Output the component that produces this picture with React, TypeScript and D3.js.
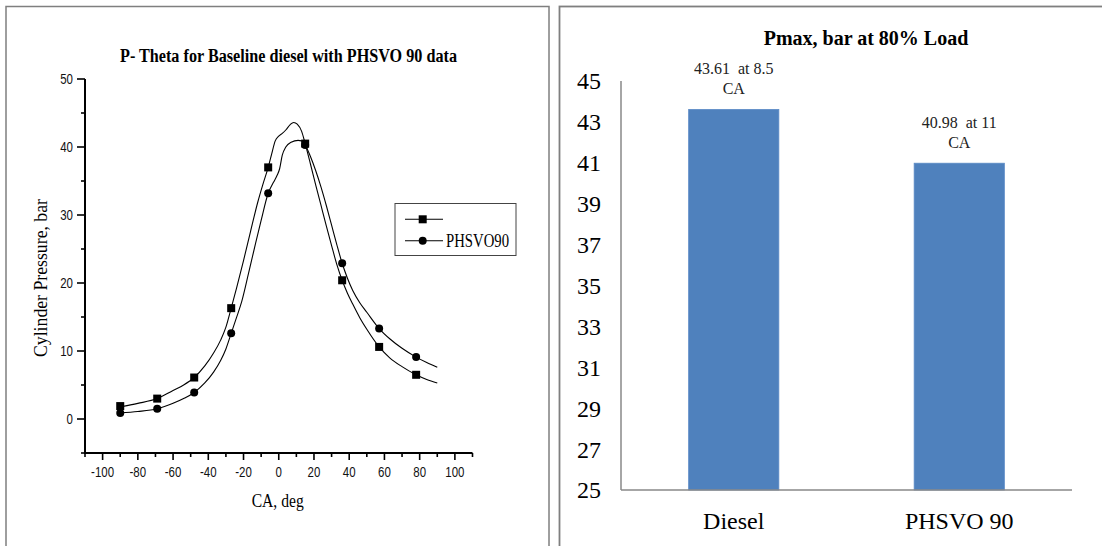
import React from 'react';
import * as d3 from 'd3';

// ---------- Left chart data (P-Theta) ----------
const markerCA = [-90, -69, -48, -27, -6, 15, 36, 57, 78];
const dieselMarkers = [1.9, 3.0, 6.1, 16.3, 37.0, 40.5, 20.4, 10.6, 6.5];
const phsvoMarkers = [0.9, 1.5, 3.9, 12.6, 33.2, 40.3, 22.9, 13.3, 9.1];

const dieselCurveCA = [-90, -80, -69, -60, -54, -48, -42, -37, -33, -30, -27, -24, -20, -16, -12, -9, -6, -4, -2, 0, 2, 4, 6.5, 8.5, 10.5, 13, 15, 18, 21, 24, 27, 30, 33, 36, 39, 42, 46, 50, 57, 63, 70, 78, 84, 90];
const dieselCurveP = [1.8, 2.3, 3.0, 4.2, 5.0, 6.1, 7.8, 9.7, 11.6, 13.5, 16.3, 19.2, 23.3, 27.6, 31.8, 34.5, 37.0, 39.0, 40.9, 41.6, 42.0, 42.5, 43.3, 43.61, 43.35, 42.3, 40.5, 37.5, 34.4, 31.4, 28.4, 25.5, 22.7, 20.4, 18.5, 16.9, 14.9, 13.2, 10.6, 9.0, 7.7, 6.5, 5.8, 5.3];

const phsvoCurveCA = [-90, -80, -69, -60, -54, -48, -42, -37, -33, -30, -27, -24, -21, -17, -13, -10, -6, -3, -1, 0.5, 2, 4, 7, 11, 13, 15, 18, 21, 24, 27, 30, 33, 36, 39, 42, 46, 50, 57, 63, 70, 78, 84, 90];
const phsvoCurveP = [0.9, 1.1, 1.5, 2.3, 3.0, 3.9, 5.3, 6.9, 8.6, 10.3, 12.6, 14.9, 17.3, 21.6, 26.0, 29.2, 33.2, 34.8, 35.8, 36.8, 38.8, 40.0, 40.7, 40.98, 40.9, 40.3, 38.6, 36.5, 34.1, 31.4, 28.5, 25.6, 22.9, 20.7, 18.9, 17.1, 15.7, 13.3, 11.8, 10.4, 9.1, 8.3, 7.6];

const xMajorTicks = [-100, -80, -60, -40, -20, 0, 20, 40, 60, 80, 100];
const xMinorTicks = [-110, -90, -70, -50, -30, -10, 10, 30, 50, 70, 90, 110];
const yMajorTicks = [0, 10, 20, 30, 40, 50];
const yMinorTicks = [-5, 5, 15, 25, 35, 45];

const legendLabels = ['', 'PHSVO90'];

// ---------- Right chart data (Pmax bars) ----------
const categories = ['Diesel', 'PHSVO 90'];
const pmaxValues = [43.61, 40.98];
const pmaxLabelLine1 = ['43.61  at 8.5', '40.98  at 11'];
const pmaxLabelLine2 = ['CA', 'CA'];
const rightYTicks = [25, 27, 29, 31, 33, 35, 37, 39, 41, 43, 45];

const SERIF = "'Liberation Serif', 'Times New Roman', serif";
const SANS = "'Liberation Sans', Arial, sans-serif";

function LeftChart() {
  const x = d3.scaleLinear().domain([-110, 110]).range([85, 472.5]);
  const y = d3.scaleLinear().domain([-5, 50]).range([453, 79]);
  const line = d3
    .line<[number, number]>()
    .x((d) => x(d[0]))
    .y((d) => y(d[1]))
    .curve(d3.curveMonotoneX);
  const dieselPts: [number, number][] = dieselCurveCA.map((c, i) => [c, dieselCurveP[i]]);
  const phsvoPts: [number, number][] = phsvoCurveCA.map((c, i) => [c, phsvoCurveP[i]]);
  const [x0, x1] = x.range();
  const [y0, y1] = y.range();
  const sq = 8;
  const cr = 4;
  return (
    <g>
      <text x={288.5} y={62} textAnchor="middle" fontFamily={SERIF} fontWeight="bold" fontSize={18}
        textLength={337} lengthAdjust="spacingAndGlyphs">P- Theta for Baseline diesel with PHSVO 90 data</text>
      {/* curves */}
      <path d={line(dieselPts) || ''} fill="none" stroke="#000" strokeWidth={1.1} />
      <path d={line(phsvoPts) || ''} fill="none" stroke="#000" strokeWidth={1.1} />
      {markerCA.map((c, i) => (
        <rect key={'s' + i} x={x(c) - sq / 2} y={y(dieselMarkers[i]) - sq / 2} width={sq} height={sq} fill="#000" />
      ))}
      {markerCA.map((c, i) => (
        <circle key={'c' + i} cx={x(c)} cy={y(phsvoMarkers[i])} r={cr} fill="#000" />
      ))}
      {/* axes */}
      <line x1={x0} x2={x0} y1={y0 + 1} y2={y1} stroke="#000" strokeWidth={2} />
      <line x1={x0 - 1} x2={x1} y1={y0} y2={y0} stroke="#000" strokeWidth={2} />
      {xMajorTicks.map((t) => (
        <line key={'xm' + t} x1={x(t)} x2={x(t)} y1={y0} y2={y0 + 7} stroke="#000" strokeWidth={1.6} />
      ))}
      {xMinorTicks.map((t) => (
        <line key={'xn' + t} x1={x(t)} x2={x(t)} y1={y0} y2={y0 + 4} stroke="#000" strokeWidth={1.6} />
      ))}
      {yMajorTicks.map((t) => (
        <line key={'ym' + t} x1={x0 - 8} x2={x0} y1={y(t)} y2={y(t)} stroke="#000" strokeWidth={1.6} />
      ))}
      {yMinorTicks.map((t) => (
        <line key={'yn' + t} x1={x0 - 4} x2={x0} y1={y(t)} y2={y(t)} stroke="#000" strokeWidth={1.6} />
      ))}
      {xMajorTicks.map((t) => (
        <text key={'xl' + t} transform={`translate(${x(t)},477) scale(0.82,1)`} textAnchor="middle"
          fontFamily={SANS} fontSize={14} fill="#111">{t}</text>
      ))}
      {yMajorTicks.map((t) => (
        <text key={'yl' + t} transform={`translate(73,${y(t) + 5}) scale(0.82,1)`} textAnchor="end"
          fontFamily={SANS} fontSize={14} fill="#111">{t}</text>
      ))}
      <text x={277.7} y={507} textAnchor="middle" fontFamily={SERIF} fontSize={18}
        textLength={52} lengthAdjust="spacingAndGlyphs">CA, deg</text>
      <text transform="translate(47,278) rotate(-90)" textAnchor="middle" fontFamily={SERIF} fontSize={18}
        textLength={158} lengthAdjust="spacingAndGlyphs">Cylinder Pressure, bar</text>
      {/* legend */}
      <rect x={395} y={203.5} width={121} height={52} fill="#fff" stroke="#444" strokeWidth={1} />
      <line x1={405} x2={443} y1={219.3} y2={219.3} stroke="#000" strokeWidth={1.1} />
      <rect x={422.7 - sq / 2} y={219.3 - sq / 2} width={sq} height={sq} fill="#000" />
      <text x={446} y={225} fontFamily={SERIF} fontSize={18}>{legendLabels[0]}</text>
      <line x1={405} x2={443} y1={240.7} y2={240.7} stroke="#000" strokeWidth={1.1} />
      <circle cx={422.7} cy={240.7} r={cr} fill="#000" />
      <text x={446} y={246.7} fontFamily={SERIF} fontSize={19} textLength={63}
        lengthAdjust="spacingAndGlyphs">{legendLabels[1]}</text>
    </g>
  );
}

function RightChart() {
  const x = d3.scaleBand<string>().domain(categories).range([621, 1072]).paddingInner(0.6).paddingOuter(0.3);
  const y = d3.scaleLinear().domain([25, 45]).range([490, 81]);
  const [x0, x1] = x.range();
  return (
    <g>
      <text x={866} y={45} textAnchor="middle" fontFamily={SERIF} fontWeight="bold" fontSize={20}>
        Pmax, bar at 80% Load
      </text>
      {categories.map((c, i) => (
        <rect key={c} x={x(c)} y={y(pmaxValues[i])} width={x.bandwidth()} height={y(25) - y(pmaxValues[i])}
          fill="#4F81BD" stroke="#5B8BC6" strokeWidth={0.8} />
      ))}
      {categories.map((c, i) => (
        <g key={'lab' + c}>
          <text x={(x(c) as number) + x.bandwidth() / 2} y={y(pmaxValues[i]) - 35} textAnchor="middle"
            fontFamily={SERIF} fontSize={16} fill="#222" style={{ whiteSpace: 'pre' }}>{pmaxLabelLine1[i]}</text>
          <text x={(x(c) as number) + x.bandwidth() / 2} y={y(pmaxValues[i]) - 15} textAnchor="middle"
            fontFamily={SERIF} fontSize={16} fill="#222">{pmaxLabelLine2[i]}</text>
        </g>
      ))}
      <line x1={x0} x2={x0} y1={y(45)} y2={y(25)} stroke="#888" strokeWidth={1.5} />
      <line x1={x0} x2={x1} y1={y(25)} y2={y(25)} stroke="#888" strokeWidth={1.5} />
      {rightYTicks.map((t) => (
        <text key={'ry' + t} x={601} y={y(t)} dy="0.35em" textAnchor="end" fontFamily={SERIF} fontSize={24}
          fill="#000">{t}</text>
      ))}
      {categories.map((c) => (
        <text key={'cx' + c} x={(x(c) as number) + x.bandwidth() / 2} y={528.5} textAnchor="middle"
          fontFamily={SERIF} fontSize={24} fill="#000">{c}</text>
      ))}
    </g>
  );
}

export default function App() {
  return (
    <svg width={1102} height={546} viewBox="0 0 1102 546"
      style={{ position: 'absolute', left: 0, top: 0, display: 'block', background: '#fff' }}>
      <rect x={0} y={0} width={1102} height={546} fill="#fff" />
      <rect x={6} y={6.5} width={543} height={560} fill="none" stroke="#7f7f7f" strokeWidth={1.5} />
      <rect x={559.5} y={6.5} width={560} height={560} fill="none" stroke="#7f7f7f" strokeWidth={1.8} />
      <LeftChart />
      <RightChart />
    </svg>
  );
}
